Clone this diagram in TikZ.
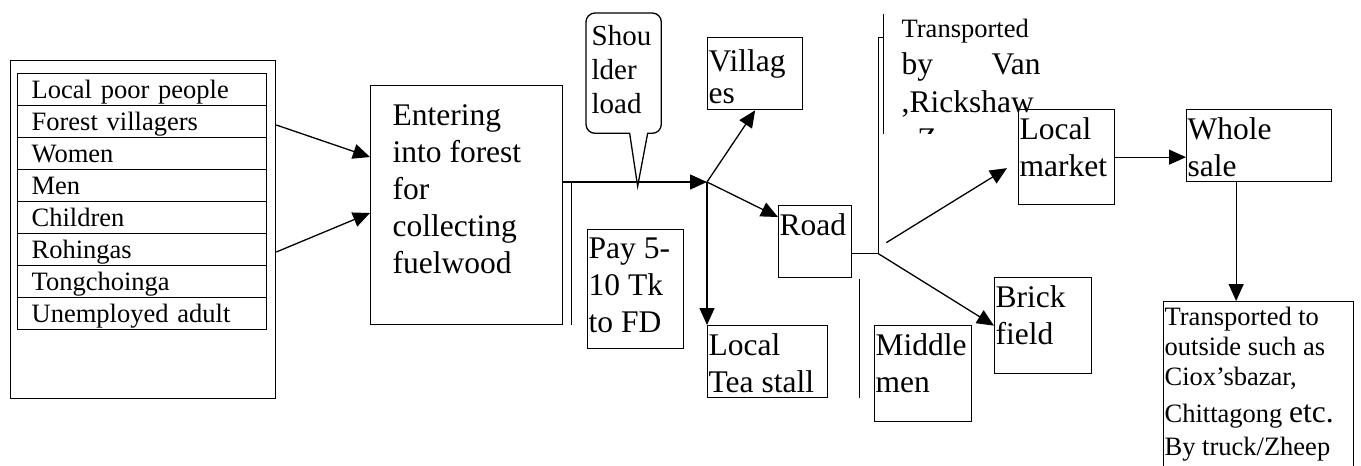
\documentclass[tikz,border=0pt]{standalone}
\usepackage{fontspec}
\setmainfont{Liberation Serif}
\usetikzlibrary{arrows.meta,calc}
\newcommand{\bigf}{\fontsize{15.75}{18.5}\selectfont}
\newcommand{\smallf}{\fontsize{13.25}{15}\selectfont}
% width, height, first baseline, text
\newcommand{\boxtext}[4]{\parbox[t][#2][t]{#1}{\raggedright\leftskip=0.5pt\rule{0pt}{#3}#4}}
\tikzset{
  box/.style={draw, anchor=north west, inner sep=0pt, font=\bigf},
  row/.style={draw, anchor=north west, inner xsep=7pt, inner ysep=0pt, text width=110.5pt,
    align=left, minimum height=16pt, text height=12.5pt, text depth=3.5pt, font=\smallf},
  arr/.style={-{Triangle[length=8.5pt,width=7.5pt]}}
}
\begin{document}
\begin{tikzpicture}[x=0.5pt,y=-0.5pt,line width=0.65pt]
\useasboundingbox (0,0) rectangle (1361,466);
% who collects
\node[draw, anchor=north west, inner sep=0pt, minimum width=132.5pt, minimum height=169pt] (people) at (10,60) {};
\foreach \who [count=\i from 0] in {Local poor people,Forest villagers,Women,Men,Children,Rohingas,Tongchoinga,Unemployed adult}
  \node[row] (row\i) at (17,{73+32*\i}) {\who};
\node[box] (entering) at (370,85) {\boxtext{96pt}{119.5pt}{20pt}{\leftskip=11pt Entering\\into forest\\for\\collecting\\fuelwood}};
\draw[arr] ($(people.north east)+(0,65)$) -- ($(entering.north west)+(0,72)$);
\draw[arr] ($(people.north east)+(0,192)$) -- ($(entering.north west)+(0,128)$);
% shoulder load callout
\node[anchor=north west, inner sep=0pt, font=\fontsize{14.5}{17}\selectfont] (shoulder) at (586,13) {\boxtext{37pt}{59.5pt}{16pt}{\leftskip=2.5pt Shou\\lder\\load}};
\coordinate (tip) at ($(shoulder.south)+(14,53)$);
\draw (tip) -- ($(shoulder.south)+(6,0)$) [rounded corners=4.5pt] -- (shoulder.south west)
  -- (shoulder.north west) -- (shoulder.north east) -- (shoulder.south east)
  [sharp corners] -- ($(shoulder.south)+(24,0)$) -- cycle;
\node[box] (pay) at (587,229) {\boxtext{48pt}{59.5pt}{14.5pt}{Pay 5-\\10 Tk\\to FD}};
\node[box] (villages) at (707,37) {\boxtext{47.5pt}{36pt}{17pt}{Villag\\[-2.5pt]es}};
\node[box] (tea) at (707,325) {\boxtext{60pt}{36pt}{15pt}{Local\\Tea stall}};
\node[box] (road) at (778,205) {\boxtext{36.5pt}{36pt}{15pt}{Road}};
\node[box] (middle) at (874,325) {\boxtext{48.5pt}{48pt}{15pt}{Middle\\men}};
\node[box] (brick) at (994,277) {\boxtext{48.5pt}{48pt}{15pt}{Brick\\field}};
\node[box] (market) at (1018,109) {\boxtext{48pt}{47.5pt}{15pt}{Local\\market}};
\node[box] (whole) at (1186,109) {\boxtext{72.5pt}{36pt}{15pt}{Whole\\sale}};
\node[box, font=\smallf] (truck) at (1163,301) {\boxtext{95pt}{90pt}{12pt}{Transported to\\outside such as\\Ciox’sbazar,\\[3.5pt]Chittagong {\bigf etc.}\\[1.5pt]By truck/Zheep}};
% transport note
\begin{scope}
\clip (885,0) rectangle (1050,133);
\node[anchor=base west, inner sep=0pt] (vannote) at (901,38) {\parbox[t]{69.5pt}{\smallf Transported\par\bigf by\hfill Van\\,Rickshaw\\, Z}};
\end{scope}
% flows
\coordinate (e1) at ($(entering.north east)+(0,97)$);
\coordinate (j1) at (tea.north west |- e1);
\draw[arr] (e1) -- (j1);
\draw ($(e1)+(8,0)$) -- ($(entering.south east)+(8,0)$);
\draw[arr] (j1) -- (villages.south);
\draw[arr] (j1) -- ($(road.north west)+(0,12)$);
\draw[arr] (j1) -- (tea.north west);
\coordinate (j2) at ($(road.east)+(26,12)$);
\draw ($(road.east)+(0,12)$) -- (j2);
\draw (j2) -- ++(0,-216) -- ++(5,0);
\draw ($(j2)+(5,-240)$) -- ++(0,120);
\draw ($(road.south east)+(7,1)$) -- ++(0,119);
\draw[arr] (j2) -- (brick.west);
\draw[arr] ($(j2)+(8,-11)$) -- ($(market.west)+(-11,11)$);
\draw[arr] (market.east) -- (market.east -| whole.west);
\coordinate (w1) at ($(whole.south)+(-23,0)$);
\draw[arr] (w1) -- (w1 |- truck.north);
\end{tikzpicture}
\end{document}
